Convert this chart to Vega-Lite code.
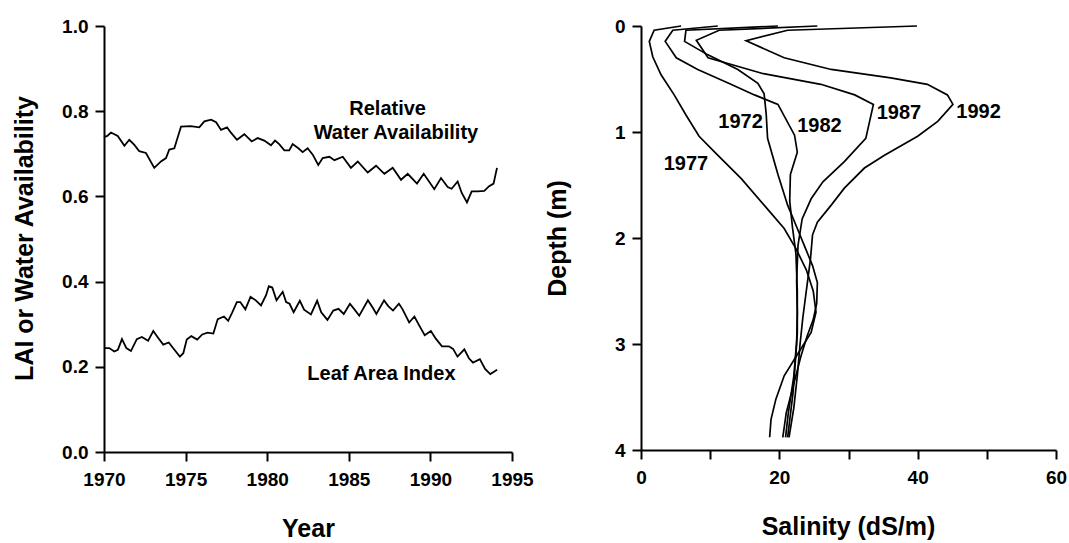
{
  "$schema": "https://vega.github.io/schema/vega-lite/v6.json",
  "background": "white",
  "padding": {"left": 12, "top": 17, "right": 0, "bottom": 0},
  "spacing": 129,
  "bounds": "flush",
  "config": {
    "font": "Liberation Sans",
    "view": {"stroke": null},
    "axis": {
      "grid": false,
      "domainColor": "black",
      "domainWidth": 2,
      "tickColor": "black",
      "tickWidth": 2,
      "tickSize": 9,
      "labelColor": "black",
      "labelFont": "Liberation Sans",
      "labelFontSize": 19,
      "labelFontWeight": "bold",
      "titleColor": "black",
      "titleFont": "Liberation Sans",
      "titleFontSize": 25,
      "titleFontWeight": "bold"
    },
    "axisX": {"labelPadding": 9, "titleY": 76, "titleBaseline": "middle", "labelFlush": false},
    "axisY": {"labelPadding": 7, "titleX": -80, "titleY": 212, "titleBaseline": "middle", "titleAngle": -90}
  },
  "datasets": {
    "timeseries": [
      {"series": "Relative Water Availability", "year": 1970.0, "value": 0.739},
      {"series": "Relative Water Availability", "year": 1970.2, "value": 0.742},
      {"series": "Relative Water Availability", "year": 1970.43, "value": 0.75},
      {"series": "Relative Water Availability", "year": 1970.84, "value": 0.742},
      {"series": "Relative Water Availability", "year": 1971.25, "value": 0.719},
      {"series": "Relative Water Availability", "year": 1971.55, "value": 0.733},
      {"series": "Relative Water Availability", "year": 1971.86, "value": 0.721},
      {"series": "Relative Water Availability", "year": 1972.16, "value": 0.706},
      {"series": "Relative Water Availability", "year": 1972.57, "value": 0.702},
      {"series": "Relative Water Availability", "year": 1973.08, "value": 0.667},
      {"series": "Relative Water Availability", "year": 1973.49, "value": 0.682},
      {"series": "Relative Water Availability", "year": 1973.8, "value": 0.69},
      {"series": "Relative Water Availability", "year": 1974.0, "value": 0.71},
      {"series": "Relative Water Availability", "year": 1974.31, "value": 0.713},
      {"series": "Relative Water Availability", "year": 1974.72, "value": 0.764},
      {"series": "Relative Water Availability", "year": 1975.3, "value": 0.765},
      {"series": "Relative Water Availability", "year": 1975.84, "value": 0.762},
      {"series": "Relative Water Availability", "year": 1976.15, "value": 0.776},
      {"series": "Relative Water Availability", "year": 1976.56, "value": 0.78},
      {"series": "Relative Water Availability", "year": 1976.87, "value": 0.774},
      {"series": "Relative Water Availability", "year": 1977.17, "value": 0.756},
      {"series": "Relative Water Availability", "year": 1977.54, "value": 0.762},
      {"series": "Relative Water Availability", "year": 1977.79, "value": 0.749},
      {"series": "Relative Water Availability", "year": 1978.15, "value": 0.733},
      {"series": "Relative Water Availability", "year": 1978.6, "value": 0.746},
      {"series": "Relative Water Availability", "year": 1979.05, "value": 0.729},
      {"series": "Relative Water Availability", "year": 1979.42, "value": 0.737},
      {"series": "Relative Water Availability", "year": 1979.82, "value": 0.731},
      {"series": "Relative Water Availability", "year": 1980.23, "value": 0.72},
      {"series": "Relative Water Availability", "year": 1980.48, "value": 0.731},
      {"series": "Relative Water Availability", "year": 1980.75, "value": 0.722},
      {"series": "Relative Water Availability", "year": 1981.05, "value": 0.708},
      {"series": "Relative Water Availability", "year": 1981.35, "value": 0.708},
      {"series": "Relative Water Availability", "year": 1981.56, "value": 0.723},
      {"series": "Relative Water Availability", "year": 1981.91, "value": 0.713},
      {"series": "Relative Water Availability", "year": 1982.17, "value": 0.704},
      {"series": "Relative Water Availability", "year": 1982.48, "value": 0.713},
      {"series": "Relative Water Availability", "year": 1982.79, "value": 0.698},
      {"series": "Relative Water Availability", "year": 1983.13, "value": 0.674},
      {"series": "Relative Water Availability", "year": 1983.4, "value": 0.69},
      {"series": "Relative Water Availability", "year": 1983.81, "value": 0.693},
      {"series": "Relative Water Availability", "year": 1984.12, "value": 0.685},
      {"series": "Relative Water Availability", "year": 1984.63, "value": 0.693},
      {"series": "Relative Water Availability", "year": 1985.13, "value": 0.667},
      {"series": "Relative Water Availability", "year": 1985.55, "value": 0.682},
      {"series": "Relative Water Availability", "year": 1986.16, "value": 0.656},
      {"series": "Relative Water Availability", "year": 1986.67, "value": 0.672},
      {"series": "Relative Water Availability", "year": 1987.18, "value": 0.653},
      {"series": "Relative Water Availability", "year": 1987.69, "value": 0.667},
      {"series": "Relative Water Availability", "year": 1988.2, "value": 0.639},
      {"series": "Relative Water Availability", "year": 1988.61, "value": 0.653},
      {"series": "Relative Water Availability", "year": 1989.18, "value": 0.63},
      {"series": "Relative Water Availability", "year": 1989.59, "value": 0.653},
      {"series": "Relative Water Availability", "year": 1990.24, "value": 0.617},
      {"series": "Relative Water Availability", "year": 1990.65, "value": 0.643},
      {"series": "Relative Water Availability", "year": 1991.06, "value": 0.622},
      {"series": "Relative Water Availability", "year": 1991.3, "value": 0.618},
      {"series": "Relative Water Availability", "year": 1991.67, "value": 0.635},
      {"series": "Relative Water Availability", "year": 1991.92, "value": 0.608},
      {"series": "Relative Water Availability", "year": 1992.24, "value": 0.586},
      {"series": "Relative Water Availability", "year": 1992.53, "value": 0.612},
      {"series": "Relative Water Availability", "year": 1992.9, "value": 0.612},
      {"series": "Relative Water Availability", "year": 1993.3, "value": 0.613},
      {"series": "Relative Water Availability", "year": 1993.6, "value": 0.624},
      {"series": "Relative Water Availability", "year": 1993.87, "value": 0.63},
      {"series": "Relative Water Availability", "year": 1994.08, "value": 0.667},
      {"series": "Leaf Area Index", "year": 1970.0, "value": 0.244},
      {"series": "Leaf Area Index", "year": 1970.32, "value": 0.244},
      {"series": "Leaf Area Index", "year": 1970.63, "value": 0.236},
      {"series": "Leaf Area Index", "year": 1970.85, "value": 0.24},
      {"series": "Leaf Area Index", "year": 1971.1, "value": 0.265},
      {"series": "Leaf Area Index", "year": 1971.37, "value": 0.244},
      {"series": "Leaf Area Index", "year": 1971.65, "value": 0.237},
      {"series": "Leaf Area Index", "year": 1972.01, "value": 0.265},
      {"series": "Leaf Area Index", "year": 1972.32, "value": 0.27},
      {"series": "Leaf Area Index", "year": 1972.7, "value": 0.261},
      {"series": "Leaf Area Index", "year": 1973.02, "value": 0.284},
      {"series": "Leaf Area Index", "year": 1973.28, "value": 0.27},
      {"series": "Leaf Area Index", "year": 1973.63, "value": 0.252},
      {"series": "Leaf Area Index", "year": 1973.97, "value": 0.257},
      {"series": "Leaf Area Index", "year": 1974.23, "value": 0.244},
      {"series": "Leaf Area Index", "year": 1974.65, "value": 0.224},
      {"series": "Leaf Area Index", "year": 1974.86, "value": 0.232},
      {"series": "Leaf Area Index", "year": 1975.07, "value": 0.264},
      {"series": "Leaf Area Index", "year": 1975.35, "value": 0.272},
      {"series": "Leaf Area Index", "year": 1975.71, "value": 0.264},
      {"series": "Leaf Area Index", "year": 1976.02, "value": 0.276},
      {"series": "Leaf Area Index", "year": 1976.34, "value": 0.28},
      {"series": "Leaf Area Index", "year": 1976.7, "value": 0.278},
      {"series": "Leaf Area Index", "year": 1976.97, "value": 0.312},
      {"series": "Leaf Area Index", "year": 1977.35, "value": 0.318},
      {"series": "Leaf Area Index", "year": 1977.61, "value": 0.308},
      {"series": "Leaf Area Index", "year": 1977.86, "value": 0.328},
      {"series": "Leaf Area Index", "year": 1978.14, "value": 0.352},
      {"series": "Leaf Area Index", "year": 1978.35, "value": 0.352},
      {"series": "Leaf Area Index", "year": 1978.66, "value": 0.335},
      {"series": "Leaf Area Index", "year": 1978.98, "value": 0.364},
      {"series": "Leaf Area Index", "year": 1979.3, "value": 0.356},
      {"series": "Leaf Area Index", "year": 1979.62, "value": 0.344},
      {"series": "Leaf Area Index", "year": 1979.93, "value": 0.368},
      {"series": "Leaf Area Index", "year": 1980.1, "value": 0.389},
      {"series": "Leaf Area Index", "year": 1980.31, "value": 0.386},
      {"series": "Leaf Area Index", "year": 1980.57, "value": 0.356},
      {"series": "Leaf Area Index", "year": 1980.95, "value": 0.376},
      {"series": "Leaf Area Index", "year": 1981.16, "value": 0.352},
      {"series": "Leaf Area Index", "year": 1981.37, "value": 0.348},
      {"series": "Leaf Area Index", "year": 1981.62, "value": 0.328},
      {"series": "Leaf Area Index", "year": 1982.0, "value": 0.355},
      {"series": "Leaf Area Index", "year": 1982.26, "value": 0.334},
      {"series": "Leaf Area Index", "year": 1982.68, "value": 0.323},
      {"series": "Leaf Area Index", "year": 1983.06, "value": 0.355},
      {"series": "Leaf Area Index", "year": 1983.31, "value": 0.328},
      {"series": "Leaf Area Index", "year": 1983.69, "value": 0.31},
      {"series": "Leaf Area Index", "year": 1984.05, "value": 0.332},
      {"series": "Leaf Area Index", "year": 1984.37, "value": 0.336},
      {"series": "Leaf Area Index", "year": 1984.69, "value": 0.324},
      {"series": "Leaf Area Index", "year": 1985.07, "value": 0.348},
      {"series": "Leaf Area Index", "year": 1985.32, "value": 0.336},
      {"series": "Leaf Area Index", "year": 1985.64, "value": 0.32},
      {"series": "Leaf Area Index", "year": 1986.17, "value": 0.356},
      {"series": "Leaf Area Index", "year": 1986.48, "value": 0.338},
      {"series": "Leaf Area Index", "year": 1986.69, "value": 0.324},
      {"series": "Leaf Area Index", "year": 1987.16, "value": 0.356},
      {"series": "Leaf Area Index", "year": 1987.43, "value": 0.342},
      {"series": "Leaf Area Index", "year": 1987.71, "value": 0.332},
      {"series": "Leaf Area Index", "year": 1988.07, "value": 0.348},
      {"series": "Leaf Area Index", "year": 1988.28, "value": 0.336},
      {"series": "Leaf Area Index", "year": 1988.7, "value": 0.304},
      {"series": "Leaf Area Index", "year": 1989.02, "value": 0.318},
      {"series": "Leaf Area Index", "year": 1989.27, "value": 0.3},
      {"series": "Leaf Area Index", "year": 1989.65, "value": 0.274},
      {"series": "Leaf Area Index", "year": 1990.03, "value": 0.284},
      {"series": "Leaf Area Index", "year": 1990.33, "value": 0.266},
      {"series": "Leaf Area Index", "year": 1990.71, "value": 0.248},
      {"series": "Leaf Area Index", "year": 1991.13, "value": 0.248},
      {"series": "Leaf Area Index", "year": 1991.39, "value": 0.242},
      {"series": "Leaf Area Index", "year": 1991.66, "value": 0.224},
      {"series": "Leaf Area Index", "year": 1992.08, "value": 0.241},
      {"series": "Leaf Area Index", "year": 1992.36, "value": 0.22},
      {"series": "Leaf Area Index", "year": 1992.61, "value": 0.21},
      {"series": "Leaf Area Index", "year": 1993.03, "value": 0.218},
      {"series": "Leaf Area Index", "year": 1993.35, "value": 0.195},
      {"series": "Leaf Area Index", "year": 1993.67, "value": 0.183},
      {"series": "Leaf Area Index", "year": 1994.09, "value": 0.193}
    ],
    "series_names": [
      {"text": "Relative", "year": 1987.38, "value": 0.805},
      {"text": "Water Availability", "year": 1987.89, "value": 0.75},
      {"text": "Leaf Area Index", "year": 1987.0, "value": 0.183}
    ],
    "profiles": [
      {"year": "1977", "salinity": 5.8, "depth": 0.0},
      {"year": "1977", "salinity": 1.9, "depth": 0.04},
      {"year": "1977", "salinity": 1.2, "depth": 0.145},
      {"year": "1977", "salinity": 1.7, "depth": 0.29},
      {"year": "1977", "salinity": 2.9, "depth": 0.46},
      {"year": "1977", "salinity": 4.8, "depth": 0.65},
      {"year": "1977", "salinity": 6.5, "depth": 0.84},
      {"year": "1977", "salinity": 8.4, "depth": 1.04},
      {"year": "1977", "salinity": 10.8, "depth": 1.2},
      {"year": "1977", "salinity": 14.5, "depth": 1.44},
      {"year": "1977", "salinity": 17.8, "depth": 1.69},
      {"year": "1977", "salinity": 20.7, "depth": 1.91},
      {"year": "1977", "salinity": 22.4, "depth": 2.1},
      {"year": "1977", "salinity": 23.9, "depth": 2.3},
      {"year": "1977", "salinity": 24.9, "depth": 2.5},
      {"year": "1977", "salinity": 25.3, "depth": 2.7},
      {"year": "1977", "salinity": 24.6, "depth": 2.89},
      {"year": "1977", "salinity": 22.7, "depth": 3.09},
      {"year": "1977", "salinity": 20.7, "depth": 3.3},
      {"year": "1977", "salinity": 19.5, "depth": 3.52},
      {"year": "1977", "salinity": 18.8, "depth": 3.71},
      {"year": "1977", "salinity": 18.6, "depth": 3.88},
      {"year": "1972", "salinity": 19.8, "depth": 0.0},
      {"year": "1972", "salinity": 6.5, "depth": 0.04},
      {"year": "1972", "salinity": 6.3, "depth": 0.145},
      {"year": "1972", "salinity": 9.6, "depth": 0.27},
      {"year": "1972", "salinity": 14.0, "depth": 0.41},
      {"year": "1972", "salinity": 16.9, "depth": 0.54},
      {"year": "1972", "salinity": 17.8, "depth": 0.64},
      {"year": "1972", "salinity": 18.1, "depth": 0.83},
      {"year": "1972", "salinity": 18.3, "depth": 1.06},
      {"year": "1972", "salinity": 19.8, "depth": 1.4},
      {"year": "1972", "salinity": 21.2, "depth": 1.69},
      {"year": "1972", "salinity": 22.6, "depth": 1.91},
      {"year": "1972", "salinity": 23.6, "depth": 2.07},
      {"year": "1972", "salinity": 24.8, "depth": 2.26},
      {"year": "1972", "salinity": 25.5, "depth": 2.42},
      {"year": "1972", "salinity": 25.4, "depth": 2.62},
      {"year": "1972", "salinity": 24.9, "depth": 2.77},
      {"year": "1972", "salinity": 24.0, "depth": 2.93},
      {"year": "1972", "salinity": 23.1, "depth": 3.12},
      {"year": "1972", "salinity": 22.0, "depth": 3.4},
      {"year": "1972", "salinity": 21.0, "depth": 3.65},
      {"year": "1972", "salinity": 20.5, "depth": 3.88},
      {"year": "1982", "salinity": 11.1, "depth": 0.0},
      {"year": "1982", "salinity": 4.6, "depth": 0.04},
      {"year": "1982", "salinity": 3.5, "depth": 0.145},
      {"year": "1982", "salinity": 5.1, "depth": 0.3},
      {"year": "1982", "salinity": 8.2, "depth": 0.41},
      {"year": "1982", "salinity": 13.0, "depth": 0.55},
      {"year": "1982", "salinity": 16.4, "depth": 0.65},
      {"year": "1982", "salinity": 19.8, "depth": 0.74},
      {"year": "1982", "salinity": 22.2, "depth": 1.03},
      {"year": "1982", "salinity": 22.6, "depth": 1.19},
      {"year": "1982", "salinity": 21.6, "depth": 1.4},
      {"year": "1982", "salinity": 21.5, "depth": 1.65},
      {"year": "1982", "salinity": 21.9, "depth": 1.9},
      {"year": "1982", "salinity": 22.4, "depth": 2.15},
      {"year": "1982", "salinity": 22.6, "depth": 2.5},
      {"year": "1982", "salinity": 22.6, "depth": 2.9},
      {"year": "1982", "salinity": 22.1, "depth": 3.3},
      {"year": "1982", "salinity": 21.3, "depth": 3.65},
      {"year": "1982", "salinity": 20.9, "depth": 3.88},
      {"year": "1987", "salinity": 25.5, "depth": 0.0},
      {"year": "1987", "salinity": 11.3, "depth": 0.04},
      {"year": "1987", "salinity": 8.0, "depth": 0.135},
      {"year": "1987", "salinity": 9.7, "depth": 0.3},
      {"year": "1987", "salinity": 17.7, "depth": 0.45},
      {"year": "1987", "salinity": 26.0, "depth": 0.55},
      {"year": "1987", "salinity": 30.9, "depth": 0.65},
      {"year": "1987", "salinity": 33.6, "depth": 0.74},
      {"year": "1987", "salinity": 32.5, "depth": 1.06},
      {"year": "1987", "salinity": 29.4, "depth": 1.28},
      {"year": "1987", "salinity": 26.3, "depth": 1.47},
      {"year": "1987", "salinity": 24.6, "depth": 1.63},
      {"year": "1987", "salinity": 23.3, "depth": 1.82},
      {"year": "1987", "salinity": 22.7, "depth": 2.07},
      {"year": "1987", "salinity": 22.5, "depth": 2.4},
      {"year": "1987", "salinity": 22.6, "depth": 2.7},
      {"year": "1987", "salinity": 22.5, "depth": 3.0},
      {"year": "1987", "salinity": 22.0, "depth": 3.45},
      {"year": "1987", "salinity": 21.2, "depth": 3.88},
      {"year": "1992", "salinity": 39.9, "depth": 0.0},
      {"year": "1992", "salinity": 21.2, "depth": 0.04},
      {"year": "1992", "salinity": 15.2, "depth": 0.139},
      {"year": "1992", "salinity": 20.7, "depth": 0.3},
      {"year": "1992", "salinity": 27.5, "depth": 0.41},
      {"year": "1992", "salinity": 36.1, "depth": 0.49},
      {"year": "1992", "salinity": 41.4, "depth": 0.55},
      {"year": "1992", "salinity": 44.3, "depth": 0.65},
      {"year": "1992", "salinity": 45.1, "depth": 0.74},
      {"year": "1992", "salinity": 42.9, "depth": 0.9},
      {"year": "1992", "salinity": 40.0, "depth": 1.04},
      {"year": "1992", "salinity": 35.2, "depth": 1.22},
      {"year": "1992", "salinity": 32.3, "depth": 1.34},
      {"year": "1992", "salinity": 29.4, "depth": 1.53},
      {"year": "1992", "salinity": 27.5, "depth": 1.69},
      {"year": "1992", "salinity": 25.5, "depth": 1.85},
      {"year": "1992", "salinity": 24.8, "depth": 1.97},
      {"year": "1992", "salinity": 24.5, "depth": 2.2},
      {"year": "1992", "salinity": 24.0, "depth": 2.45},
      {"year": "1992", "salinity": 23.4, "depth": 2.75},
      {"year": "1992", "salinity": 23.0, "depth": 3.0},
      {"year": "1992", "salinity": 22.6, "depth": 3.3},
      {"year": "1992", "salinity": 22.1, "depth": 3.6},
      {"year": "1992", "salinity": 21.4, "depth": 3.88}
    ],
    "profile_years": [
      {"text": "1972", "salinity": 14.4, "depth": 0.91},
      {"text": "1977", "salinity": 6.5, "depth": 1.3},
      {"text": "1982", "salinity": 25.8, "depth": 0.94},
      {"text": "1987", "salinity": 37.3, "depth": 0.82},
      {"text": "1992", "salinity": 48.8, "depth": 0.81}
    ]
  },
  "hconcat": [
    {
      "width": 408,
      "height": 426,
      "layer": [
        {
          "data": {"name": "timeseries"},
          "mark": {"type": "line", "color": "black", "strokeWidth": 1.8},
          "encoding": {
            "x": {
              "field": "year", "type": "quantitative",
              "scale": {"domain": [1970, 1995], "nice": false, "zero": false},
              "axis": {"values": [1970, 1975, 1980, 1985, 1990, 1995], "format": "d", "title": "Year", "titleX": 204}
            },
            "y": {
              "field": "value", "type": "quantitative",
              "scale": {"domain": [0, 1], "nice": false},
              "axis": {"values": [0, 0.2, 0.4, 0.6, 0.8, 1.0], "format": ".1f", "title": "LAI or Water Availability"}
            },
            "detail": {"field": "series"}
          }
        },
        {
          "data": {"name": "series_names"},
          "mark": {"type": "text", "font": "Liberation Sans", "fontWeight": "bold", "fontSize": 20, "color": "black"},
          "encoding": {
            "x": {"field": "year", "type": "quantitative"},
            "y": {"field": "value", "type": "quantitative"},
            "text": {"field": "text"}
          }
        }
      ]
    },
    {
      "width": 415,
      "height": 424,
      "layer": [
        {
          "data": {"name": "profiles"},
          "mark": {"type": "line", "color": "black", "strokeWidth": 1.7},
          "encoding": {
            "x": {
              "field": "salinity", "type": "quantitative",
              "scale": {"domain": [0, 60], "nice": false},
              "axis": {"values": [0, 10, 20, 30, 40, 50, 60], "labelExpr": "datum.value % 20 === 0 ? datum.label : ''", "title": "Salinity (dS/m)", "titleX": 207}
            },
            "y": {
              "field": "depth", "type": "quantitative",
              "scale": {"domain": [0, 4], "reverse": true, "nice": false},
              "axis": {"values": [0, 1, 2, 3, 4], "format": "d", "title": "Depth (m)", "titleX": -84}
            },
            "detail": {"field": "year"},
            "order": {"field": "depth"}
          }
        },
        {
          "data": {"name": "profile_years"},
          "mark": {"type": "text", "font": "Liberation Sans", "fontWeight": "bold", "fontSize": 20, "color": "black"},
          "encoding": {
            "x": {"field": "salinity", "type": "quantitative"},
            "y": {"field": "depth", "type": "quantitative"},
            "text": {"field": "text"}
          }
        }
      ]
    }
  ]
}
